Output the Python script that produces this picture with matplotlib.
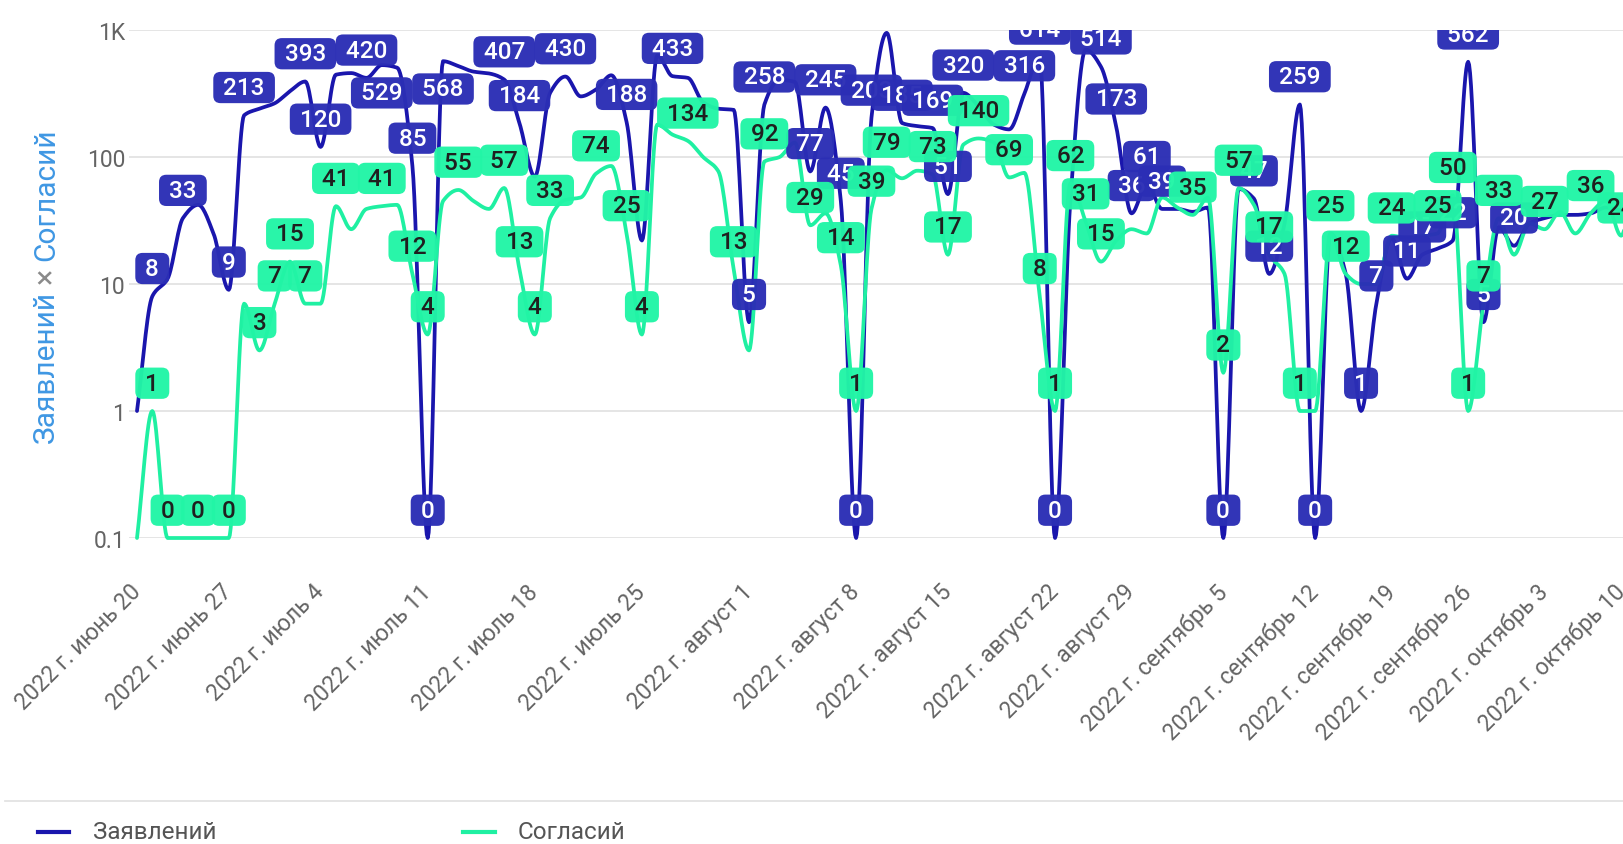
import numpy as np
import pandas as pd
import matplotlib
matplotlib.use("Agg")
import matplotlib.pyplot as plt
import matplotlib.transforms as mtransforms
from matplotlib.lines import Line2D

plt.rcParams['font.family'] = ['Roboto', 'DejaVu Sans']

# the source skips some days, so the x axis is one slot per reported day
week_starts = pd.date_range("2022-06-20", periods=17, freq="7D")
days_per_week = [6, 6, 7, 7, 7, 7, 7, 6, 7, 5, 6, 6, 5, 5, 5, 5, 2]
months_ru = {6: "июнь", 7: "июль", 8: "август", 9: "сентябрь", 10: "октябрь"}

# Заявлений (applications)
zayavleniy = [1, 8, 11, 33, 42, 25, 9, 213, 240, 265,
              330, 393, 120, 445, 458, 420, 529, 505, 85, 0,
              568, 520, 470, 455, 407, 184, 70, 320, 430, 300,
              340, 440, 188, 22, 630, 433, 420, 270, 240, 235,
              5, 258, 405, 390, 77, 245, 45, 0, 203, 950,
              185, 175, 169, 51, 320, 250, 180, 165, 316, 614,
              0, 45, 700, 514, 173, 36, 61, 39, 39, 37,
              40, 0, 56, 47, 12, 30, 259, 0, 25, 12,
              1, 7, 23, 11, 17, 19, 22, 562, 5, 28,
              20, 30, 33, 35, 35, 36, 40, 38, 38]

# Согласий (approvals)
soglasiy = [0, 1, 0, 0, 0, 0, 0, 7, 3, 7,
            15, 7, 7, 41, 27, 39, 41, 42, 12, 4,
            45, 55, 45, 39, 57, 13, 4, 33, 46, 48,
            74, 85, 25, 4, 180, 150, 134, 100, 77, 13,
            3, 92, 100, 130, 29, 36, 14, 1, 39, 79,
            68, 78, 73, 17, 125, 140, 130, 69, 75, 8,
            1, 62, 31, 15, 22, 27, 25, 48, 40, 35,
            48, 2, 57, 42, 17, 12, 1, 1, 25, 12,
            10, 10, 24, 23, 24, 25, 50, 1, 7, 33,
            17, 30, 27, 37, 25, 36, 45, 24, 110]

# points that carry a value label in the original
zayav_labeled = [1, 3, 6, 7, 11, 12, 15, 16, 18, 19, 20, 24, 25, 28, 32, 35,
                 40, 41, 44, 45, 46, 47, 48, 50, 52, 53, 54, 58, 59, 60, 63,
                 64, 65, 66, 67, 71, 73, 74, 76, 77, 80, 81, 83, 84, 86, 87,
                 88, 90]
zayav_below = [16, 20]
sogl_labeled = [1, 2, 4, 6, 8, 9, 10, 11, 13, 16, 18, 19, 21, 24, 25, 26, 27,
                30, 32, 33, 36, 39, 41, 44, 46, 47, 48, 49, 52, 53, 55, 57,
                59, 60, 61, 62, 63, 69, 71, 72, 74, 76, 78, 79, 82, 85, 86,
                87, 88, 89, 92, 95, 97, 98]

BLUE = "#1a16ad"
BLUE_BOX = "#2b2eb5"
GREEN = "#1ff0a2"
GREEN_BOX = "#22f5a6"
GRAY = "#646464"

dates = []
for start, n in zip(week_starts, days_per_week):
    dates += list(pd.date_range(start, periods=n, freq="D"))
x = np.arange(len(dates))


def monotone(xv, yv, n=16):
    # monotone cubic (Fritsch-Carlson) so the curve never overshoots
    xv = np.asarray(xv, float)
    yv = np.asarray(yv, float)
    h = np.diff(xv)
    d = np.diff(yv) / h
    m = np.zeros_like(yv)
    m[0], m[-1] = d[0], d[-1]
    for i in range(1, len(yv) - 1):
        if d[i - 1] * d[i] > 0:
            w1 = 2 * h[i] + h[i - 1]
            w2 = h[i] + 2 * h[i - 1]
            m[i] = (w1 + w2) / (w1 / d[i - 1] + w2 / d[i])
    t = np.linspace(0, 1, n, endpoint=False)
    h00 = 2 * t**3 - 3 * t**2 + 1
    h10 = t**3 - 2 * t**2 + t
    h01 = -2 * t**3 + 3 * t**2
    h11 = t**3 - t**2
    xs, ys = [], []
    for i in range(len(xv) - 1):
        xs.append(xv[i] + t * h[i])
        ys.append(h00 * yv[i] + h10 * h[i] * m[i] + h01 * yv[i + 1] + h11 * h[i] * m[i + 1])
    xs.append([xv[-1]])
    ys.append([yv[-1]])
    return np.concatenate(xs), np.concatenate(ys)


W, H = 1623, 845
fig = plt.figure(figsize=(W / 100, H / 100), dpi=100)
left = 129.35
ax = fig.add_axes([left / W, (H - 539) / H, 1 - left / W, (539 - 31) / H])
ax.set_yscale("log")
ax.set_ylim(0.1, 1000)
ax.set_xlim(-0.5, 97.12)

for vals, col, z in [(zayavleniy, BLUE, 2), (soglasiy, GREEN, 3)]:
    lv = np.log10(np.maximum(np.array(vals, float), 0.1))
    sx, sy = monotone(x, lv)
    ax.plot(sx, 10**sy, color=col, lw=2.7, zorder=z, clip_on=False,
            solid_joinstyle="round", solid_capstyle="round")


def put_labels(vals, idx, box, txt, z, below=()):
    for i in idx:
        v = vals[i]
        dy = -20 if i in below else 20
        ax.annotate(" %d " % v, (x[i], max(v, 0.1)), xytext=(0, dy),
                    textcoords="offset points", ha="center", va="center",
                    fontsize=17.5, color=txt, fontweight="medium", zorder=z,
                    clip_on=True,
                    bbox=dict(boxstyle="round,pad=0.17,rounding_size=0.3",
                              fc=box, ec="none", alpha=0.97))


put_labels(zayavleniy, zayav_labeled, BLUE_BOX, "white", 4, zayav_below)
put_labels(soglasiy, sogl_labeled, GREEN_BOX, "#1f1f1f", 5)

ax.set_yticks([0.1, 1, 10, 100, 1000])
ax.set_yticklabels(["0.1", "1", "10", "100", "1K"])
ax.minorticks_off()
ax.yaxis.grid(True, color="#e3e3e3", lw=1.3)
ax.set_axisbelow(True)
for s in ax.spines.values():
    s.set_visible(False)

mondays = [i for i, d in enumerate(dates) if d.weekday() == 0 and d <= pd.Timestamp("2022-10-10")]
ax.set_xticks(mondays)
ax.set_xticklabels(["2022 г. %s %d" % (months_ru[dates[i].month], dates[i].day) for i in mondays],
                   rotation=45, ha="right", va="top", rotation_mode="anchor")
ax.tick_params(axis="x", length=0, pad=30, labelsize=16.5, labelcolor=GRAY)
ax.tick_params(axis="y", length=0, pad=3, labelsize=16.5, labelcolor=GRAY)
shift = mtransforms.ScaledTranslation(-8 / 100, 0, fig.dpi_scale_trans)
for lab in ax.get_xticklabels():
    lab.set_transform(lab.get_transform() + shift)

# axis title made of three coloured pieces
title_blue = "#3f97e3"
fig.text(46 / W, (H - 291) / H, "Заявлений", rotation=90, rotation_mode="anchor",
         ha="right", va="center", fontsize=21.5, color=title_blue)
fig.text(46 / W, (H - 276) / H, "×", rotation=90, rotation_mode="anchor",
         ha="center", va="center", fontsize=22, color="#8a8a8a")
fig.text(46 / W, (H - 261) / H, "Согласий", rotation=90, rotation_mode="anchor",
         ha="left", va="center", fontsize=21.5, color=title_blue)

# legend strip
fig.add_artist(Line2D([5 / W, 1], [(H - 802) / H] * 2, color="#e3e3e3", lw=1.3))
ly = (H - 833) / H
fig.add_artist(Line2D([38 / W, 69 / W], [ly, ly], color=BLUE, lw=3))
fig.text(93 / W, ly, "Заявлений", ha="left", va="center", fontsize=17.5, color="#555555")
fig.add_artist(Line2D([463 / W, 495 / W], [ly, ly], color=GREEN, lw=3))
fig.text(518 / W, ly, "Согласий", ha="left", va="center", fontsize=17.5, color="#555555")

fig.savefig("out.png", dpi=100)
